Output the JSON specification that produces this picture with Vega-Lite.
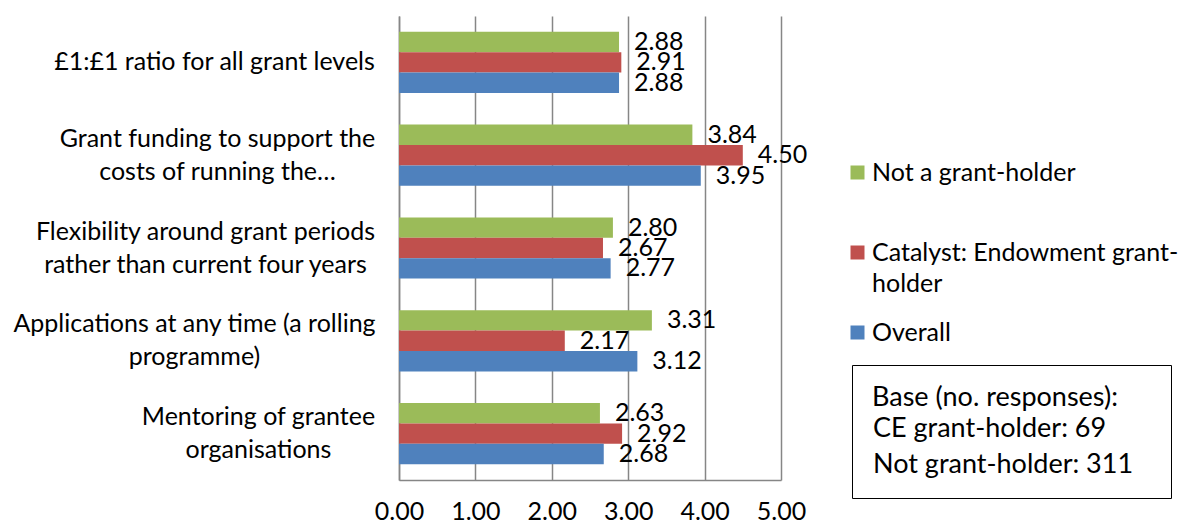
{
  "$schema": "https://vega.github.io/schema/vega-lite/v6.json",
  "width": 382,
  "height": 464,
  "autosize": {"type": "none"},
  "padding": {"left": 399, "top": 16, "right": 397, "bottom": 47},
  "background": "white",
  "config": {
    "font": "Lato",
    "view": {"stroke": null},
    "axis": {"labelColor": "black", "labelFontSize": 25, "domainColor": "#868686", "domainWidth": 1.5, "ticks": false, "title": null}
  },
  "data": {
    "values": [
      {"item": "£1:£1 ratio for all grant levels", "group": "Not a grant-holder", "score": 2.88},
      {"item": "£1:£1 ratio for all grant levels", "group": "Catalyst: Endowment grant-holder", "score": 2.91},
      {"item": "£1:£1 ratio for all grant levels", "group": "Overall", "score": 2.88},
      {"item": "Grant funding to support the costs of running the…", "group": "Not a grant-holder", "score": 3.84},
      {"item": "Grant funding to support the costs of running the…", "group": "Catalyst: Endowment grant-holder", "score": 4.50},
      {"item": "Grant funding to support the costs of running the…", "group": "Overall", "score": 3.95},
      {"item": "Flexibility around grant periods rather than current four years", "group": "Not a grant-holder", "score": 2.80},
      {"item": "Flexibility around grant periods rather than current four years", "group": "Catalyst: Endowment grant-holder", "score": 2.67},
      {"item": "Flexibility around grant periods rather than current four years", "group": "Overall", "score": 2.77},
      {"item": "Applications at any time (a rolling programme)", "group": "Not a grant-holder", "score": 3.31},
      {"item": "Applications at any time (a rolling programme)", "group": "Catalyst: Endowment grant-holder", "score": 2.17},
      {"item": "Applications at any time (a rolling programme)", "group": "Overall", "score": 3.12},
      {"item": "Mentoring of grantee organisations", "group": "Not a grant-holder", "score": 2.63},
      {"item": "Mentoring of grantee organisations", "group": "Catalyst: Endowment grant-holder", "score": 2.92},
      {"item": "Mentoring of grantee organisations", "group": "Overall", "score": 2.68}
    ]
  },
  "encoding": {
    "y": {
      "field": "item", "type": "nominal", "sort": null,
      "scale": {"paddingInner": 0.34, "paddingOuter": 0.17},
      "axis": {
        "labelAlign": "center", "labelLineHeight": 33, "labelLimit": 420,
        "labelPadding": {
          "condition": [
            {"test": "datum.value == 'Grant funding to support the costs of running the…'", "value": 182},
            {"test": "datum.value == 'Flexibility around grant periods rather than current four years'", "value": 194},
            {"test": "datum.value == 'Applications at any time (a rolling programme)'", "value": 205},
            {"test": "datum.value == 'Mentoring of grantee organisations'", "value": 141}
          ],
          "value": 185
        },
        "labelOffset": {"condition": {"test": "datum.value == '£1:£1 ratio for all grant levels'", "value": 0}, "value": -16.5},
        "labelExpr": "datum.label == 'Grant funding to support the costs of running the…' ? ['Grant funding to support the', 'costs of running the…'] : datum.label == 'Flexibility around grant periods rather than current four years' ? ['Flexibility around grant periods', 'rather than current four years'] : datum.label == 'Applications at any time (a rolling programme)' ? ['Applications at any time (a rolling', 'programme)'] : datum.label == 'Mentoring of grantee organisations' ? ['Mentoring of grantee', 'organisations'] : datum.label"
      }
    },
    "yOffset": {"field": "group", "type": "nominal", "sort": ["Not a grant-holder", "Catalyst: Endowment grant-holder", "Overall"], "scale": {"paddingInner": 0, "paddingOuter": 0}},
    "x": {
      "field": "score", "type": "quantitative",
      "scale": {"domain": [0, 5]},
      "axis": {"values": [0, 1, 2, 3, 4, 5], "format": ".2f", "grid": true, "gridColor": "#868686", "gridWidth": 1.5, "labelPadding": 19, "labelFlush": false}
    }
  },
  "layer": [
    {
      "mark": {"type": "bar"},
      "encoding": {
        "color": {
          "field": "group", "type": "nominal",
          "scale": {"domain": ["Not a grant-holder", "Catalyst: Endowment grant-holder", "Overall"], "range": ["#9BBB59", "#C0504D", "#4F81BD"]},
          "legend": {
            "orient": "none", "legendX": 446, "legendY": 144, "title": null,
            "symbolType": "square", "symbolSize": 196, "symbolStrokeWidth": 0, "symbolOpacity": 1,
            "labelFontSize": 25, "labelColor": "black", "labelOffset": 2, "rowPadding": 23, "labelLimit": 420,
            "labelExpr": "datum.label == 'Catalyst: Endowment grant-holder' ? ['Catalyst: Endowment grant-', 'holder'] : [datum.label, '']",
            "encode": {"labels": {"update": {"lineHeight": {"value": 31}}}}
          }
        }
      }
    },
    {
      "mark": {"type": "text", "align": "left", "baseline": "middle", "dx": 15, "fontSize": 25, "color": "black"},
      "encoding": {"text": {"field": "score", "type": "quantitative", "format": ".2f"}}
    },
    {
      "data": {"values": [{"base": "CE grant-holder: 69"}, {"base": "Not grant-holder: 311"}]},
      "mark": {"type": "point", "opacity": 0},
      "encoding": {
        "y": null, "yOffset": null, "x": null,
        "shape": {
          "field": "base", "type": "nominal",
          "scale": {"range": ["M265,0h0.1v0.1h-0.1z", "M265,0h0.1v0.1h-0.1z"]},
          "legend": {
            "orient": "none", "legendX": 453, "legendY": 349,
            "title": "Base (no. responses):", "titleFontSize": 27, "titleFontWeight": "normal", "titleColor": "black", "titlePadding": 3, "titleLimit": 400,
            "symbolSize": 4, "symbolOpacity": 0, "symbolStrokeWidth": 0, "labelOffset": -26,
            "labelFontSize": 27, "labelColor": "black", "rowPadding": 8, "labelLimit": 400,
            "padding": 20, "strokeColor": "black"
          }
        }
      }
    }
  ]
}
